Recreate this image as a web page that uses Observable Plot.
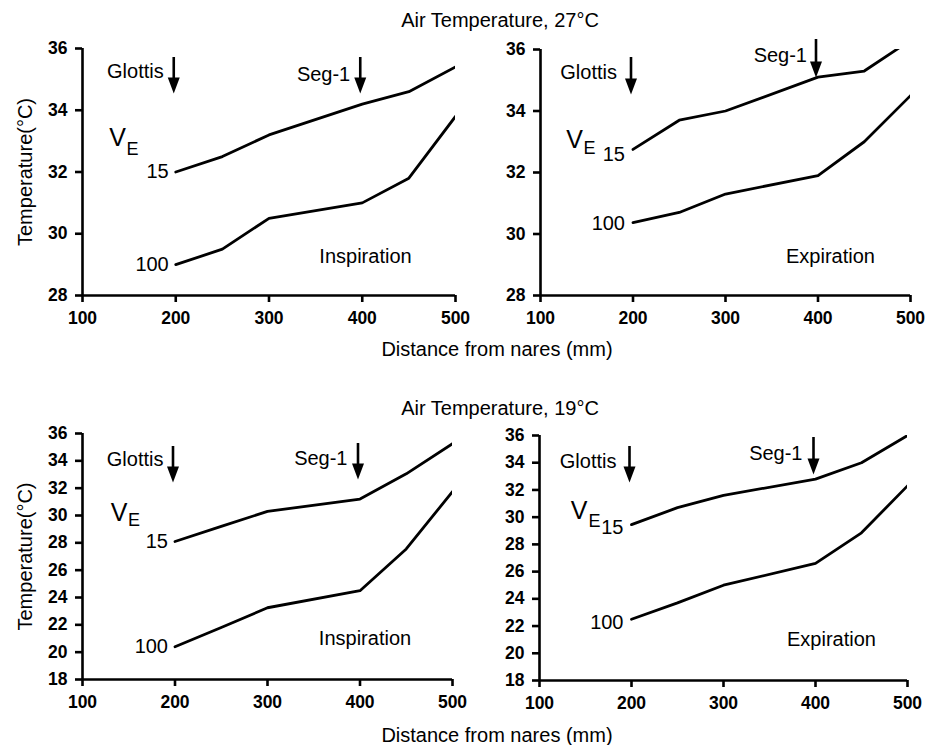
<!DOCTYPE html>
<html>
<head>
<meta charset="utf-8">
<script src="https://cdn.jsdelivr.net/npm/d3@7"></script>
<script src="https://cdn.jsdelivr.net/npm/@observablehq/plot@0.6"></script>
<style>
  html, body { margin: 0; padding: 0; background: #fff; }
  #chart { position: relative; width: 934px; height: 745px; background: #fff; color: #000;
           font-family: 'Liberation Sans', Arial, Helvetica, sans-serif; }
  .panel { position: absolute; }
  .panel svg { overflow: visible; background: transparent !important; }
  .panel svg [aria-label$="tick label"],
  .panel svg [aria-label$="tick label"] text { font-size: 17.5px !important; font-weight: bold !important; }
  .lbl { position: absolute; width: 400px; text-align: center; font-size: 20px; line-height: 20px; color: #000; white-space: nowrap; }
</style>
</head>
<body>
<div id="chart">
  <div class="lbl" id="title1" style="left:300px; top:10px;"></div>
  <div class="lbl" id="xlab1" style="left:297px; top:339px;"></div>
  <div class="lbl" id="title2" style="left:300px; top:398px;"></div>
  <div class="lbl" id="xlab2" style="left:297px; top:725px;"></div>
</div>
<script>
// ---------------- data ----------------
const distance = [200, 250, 300, 400, 450, 500];        // mm from nares
const veLevels = ["15", "100"];                          // minute ventilation V_E
const insp27_15  = [32.0, 32.5, 33.2, 34.2, 34.6, 35.4];
const insp27_100 = [29.0, 29.5, 30.5, 31.0, 31.8, 33.8];
const exp27_15   = [32.75, 33.7, 34.0, 35.1, 35.3, 36.3];
const exp27_100  = [30.37, 30.7, 31.3, 31.9, 33.0, 34.5];
const insp19_15  = [28.1, 29.2, 30.3, 31.2, 33.05, 35.25];
const insp19_100 = [20.4, 21.8, 23.25, 24.5, 27.55, 31.75];
const exp19_15   = [29.45, 30.7, 31.6, 32.8, 34.0, 36.0];
const exp19_100  = [22.5, 23.7, 25.0, 26.6, 28.85, 32.3];
const landmarks = [{name: "Glottis", distance: 200}, {name: "Seg-1", distance: 400}];
const xTicks = [100, 200, 300, 400, 500];
const yTicks27 = [28, 30, 32, 34, 36];
const yTicks19 = [18, 20, 22, 24, 26, 28, 30, 32, 34, 36];
const phases = ["Inspiration", "Expiration"];
const titles = ["Air Temperature, 27°C", "Air Temperature, 19°C"];
const xLabel = "Distance from nares (mm)";
const yLabel = "Temperature(°C)";

// ---------------- layout ----------------
const FONT = "'Liberation Sans', Arial, Helvetica, sans-serif";
document.getElementById("title1").textContent = titles[0];
document.getElementById("title2").textContent = titles[1];
document.getElementById("xlab1").textContent = xLabel;
document.getElementById("xlab2").textContent = xLabel;

const downTriangle = {
  draw(ctx) { ctx.moveTo(-6, -8); ctx.lineTo(6, -8); ctx.lineTo(0, 8); ctx.closePath(); }
};

const panels = [
  {left: 0, top: 0, s15: insp27_15, s100: insp27_100, yDomain: [28, 36], yTicks: yTicks27, phase: phases[0], showY: true,
   mL: 82, mR: 15, mT: 48, mB: 45,
   arrows: [{top: 9, tip: 45, tdx: -12, tdy: 15}, {top: 9, tip: 45, tdx: -12, tdy: 18}],
   V: [35, 79.5], E: [49, 94], l15: [-7, 0], l100: [-7, 0], ph: [-90, -32.5]},
  {left: 464, top: 0, s15: exp27_15, s100: exp27_100, yDomain: [28, 36], yTicks: yTicks27, phase: phases[1], showY: false,
   mL: 76, mR: 24, mT: 49, mB: 45,
   arrows: [{top: 8, tip: 45, tdx: -16, tdy: 15.7}, {top: -10, tip: 28, tdx: -11, tdy: -2}],
   V: [34, 81], E: [48, 92], l15: [-8, 5], l100: [-8, 1], ph: [-80, -32.5]},
  {left: 0, top: 385, s15: insp19_15, s100: insp19_100, yDomain: [18, 36], yTicks: yTicks19, phase: phases[0], showY: true,
   mL: 82, mR: 18, mT: 48, mB: 46,
   arrows: [{top: 13, tip: 49, tdx: -11.5, tdy: 18}, {top: 10, tip: 46, tdx: -12.5, tdy: 17}],
   V: [36.5, 69.5], E: [50.5, 79.5], l15: [-7, 0], l100: [-7, 0], ph: [-87.5, -34.5]},
  {left: 464, top: 385, s15: exp19_15, s100: exp19_100, yDomain: [18, 36], yTicks: yTicks19, phase: phases[1], showY: false,
   mL: 75, mR: 27, mT: 50, mB: 45,
   arrows: [{top: 11, tip: 47, tdx: -15, tdy: 18.5}, {top: 2, tip: 39, tdx: -13, tdy: 10}],
   V: [39.5, 65.5], E: [54, 79], l15: [-8, 3], l100: [-8, 3], ph: [-76, -35]}
];

const W = 470, H = 340;
const container = document.getElementById("chart");

for (const p of panels) {
  const rows = [];
  distance.forEach((d, i) => {
    rows.push({distance: d, temp: p.s15[i], ve: veLevels[0]});
    rows.push({distance: d, temp: p.s100[i], ve: veLevels[1]});
  });
  const firsts = [
    {distance: distance[0], temp: p.s15[0], ve: veLevels[0], off: p.l15},
    {distance: distance[0], temp: p.s100[0], ve: veLevels[1], off: p.l100}
  ];
  const frameH = H - p.mT - p.mB;
  const marks = [];

  // axes
  marks.push(Plot.axisX({ticks: xTicks, tickSize: 7, tickPadding: 9, strokeWidth: 2.6,
    fontSize: 17.5, fontWeight: "bold", label: null, tickFormat: d => String(d)}));
  marks.push(Plot.axisY({ticks: p.yTicks, tickSize: 7, tickPadding: 8, strokeWidth: 2.6,
    fontSize: 17.5, fontWeight: "bold", label: null, tickFormat: d => String(d)}));
  marks.push(Plot.ruleX([100], {strokeWidth: 2.6}));
  marks.push(Plot.ruleY([p.yDomain[0]], {strokeWidth: 2.6}));

  // data lines
  marks.push(Plot.line(rows, {x: "distance", y: "temp", z: "ve", stroke: "black", strokeWidth: 2.8, clip: true}));

  // V_E level labels at line starts
  for (const f of firsts) {
    marks.push(Plot.text([f], {x: "distance", y: "temp", text: "ve", textAnchor: "end",
      dx: f.off[0], dy: f.off[1], fontSize: 20, fontWeight: "normal", fill: "black"}));
  }

  // landmark arrows + labels
  landmarks.forEach((lm, i) => {
    const a = p.arrows[i];
    marks.push(Plot.ruleX([lm], {x: "distance", insetTop: a.top, insetBottom: frameH - (a.tip - 12),
      strokeWidth: 2.6, stroke: "black", dx: -2}));
    marks.push(Plot.dot([lm], {x: "distance", frameAnchor: "top", dy: a.tip - 8, dx: -2,
      symbol: downTriangle, fill: "black", stroke: "none"}));
    marks.push(Plot.text([lm], {x: "distance", frameAnchor: "top", text: "name", textAnchor: "end",
      dx: a.tdx, dy: a.tdy, fontSize: 20, fontWeight: "normal", fill: "black"}));
  });

  // V_E symbol
  marks.push(Plot.text(["V"], {frameAnchor: "top-left", text: d => d, dx: p.V[0], dy: p.V[1],
    fontSize: 25, fontWeight: "normal", textAnchor: "middle", fill: "black"}));
  marks.push(Plot.text(["E"], {frameAnchor: "top-left", text: d => d, dx: p.E[0] + 1, dy: p.E[1],
    fontSize: 18, fontWeight: "normal", textAnchor: "middle", fill: "black"}));

  // phase label
  marks.push(Plot.text([p.phase], {frameAnchor: "bottom-right", text: d => d, dx: p.ph[0], dy: p.ph[1],
    fontSize: 20, fontWeight: "normal", textAnchor: "middle", fill: "black"}));

  // y axis title
  if (p.showY) {
    marks.push(Plot.text([yLabel], {frameAnchor: "left", text: d => d, rotate: -90, dx: -57,
      fontSize: 20, fontWeight: "normal", textAnchor: "middle", fill: "black"}));
  }

  const svg = Plot.plot({
    width: W, height: H,
    marginLeft: p.mL, marginRight: p.mR, marginTop: p.mT, marginBottom: p.mB,
    style: {fontFamily: FONT, fontSize: "17.5px", background: "transparent", color: "black", overflow: "visible"},
    x: {domain: [100, 500]},
    y: {domain: p.yDomain},
    marks
  });
  const wrap = document.createElement("div");
  wrap.className = "panel";
  wrap.style.left = p.left + "px";
  wrap.style.top = p.top + "px";
  wrap.appendChild(svg);
  container.appendChild(wrap);
}
</script>
</body>
</html>
